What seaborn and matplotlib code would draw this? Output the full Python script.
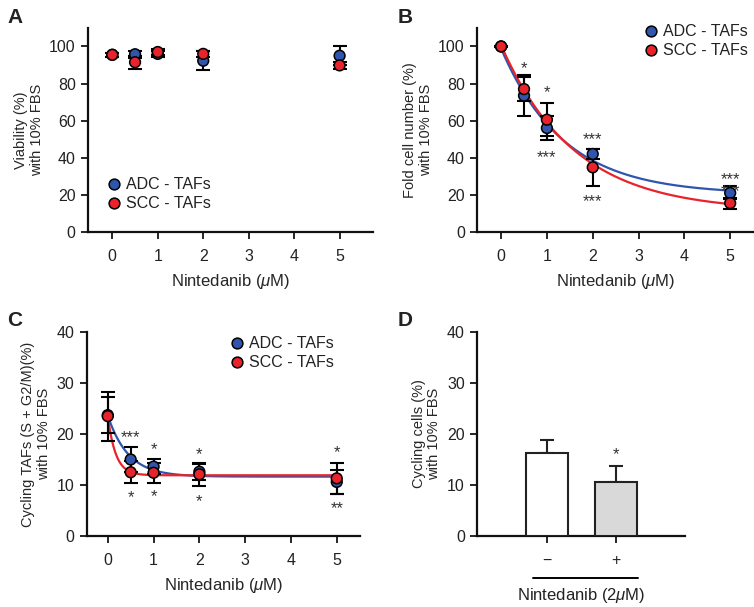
import numpy as np
import pandas as pd
import matplotlib
matplotlib.use('Agg')
import matplotlib.pyplot as plt
import seaborn as sns

# doses (uM)
dose = [0, 0.5, 1, 2, 5]
groups = ['ADC - TAFs', 'SCC - TAFs']

# A: viability
via_adc = [95.5, 95.8, 96.0, 92.3, 95.0]
via_adc_err = [1.0, 2.0, 1.5, 5.0, 5.0]
via_scc = [95.5, 91.5, 97.0, 96.0, 89.8]
via_scc_err = [1.0, 3.5, 1.5, 1.5, 1.8]

# B: fold cell number
fold_adc = [100, 73.5, 56.0, 42.0, 21.0]
fold_adc_err = [0.5, 11.0, 6.5, 2.8, 3.5]
fold_scc = [100, 77.0, 60.5, 34.8, 15.5]
fold_scc_err = [0.5, 6.5, 9.0, 10.0, 3.0]

# C: cycling TAFs
cyc_adc = [23.7, 15.0, 13.6, 12.6, 10.6]
cyc_adc_err = [3.5, 2.5, 1.5, 1.6, 2.4]
cyc_scc = [23.5, 12.5, 12.4, 12.1, 11.3]
cyc_scc_err = [4.8, 2.2, 2.0, 2.2, 3.0]

# D: cycling cells
d_labels = ['\u2212', '+']
d_vals = [16.3, 10.6]
d_err = [2.6, 3.2]

palette = {'ADC - TAFs': '#2f55ad', 'SCC - TAFs': '#e8232b'}

sns.set_style('ticks')
plt.rcParams['font.family'] = ['Liberation Sans', 'DejaVu Sans']
plt.rcParams['mathtext.fontset'] = 'custom'
plt.rcParams['mathtext.rm'] = 'Liberation Sans'
plt.rcParams['mathtext.it'] = 'Liberation Sans:italic'
plt.rcParams['axes.linewidth'] = 1.6
plt.rcParams['xtick.major.width'] = 1.4
plt.rcParams['ytick.major.width'] = 1.4
plt.rcParams['xtick.major.size'] = 5
plt.rcParams['ytick.major.size'] = 5
plt.rcParams['xtick.major.pad'] = 7
plt.rcParams['ytick.major.pad'] = 4
plt.rcParams['xtick.labelsize'] = 11.5
plt.rcParams['ytick.labelsize'] = 11.5
plt.rcParams['axes.labelsize'] = 10.5
plt.rcParams['axes.edgecolor'] = '#111111'
plt.rcParams['text.color'] = '#222222'
plt.rcParams['xtick.labelcolor'] = '#222222'
plt.rcParams['ytick.labelcolor'] = '#222222'

STAR_COLOR = '#333333'
XLABEL = r'Nintedanib ($\mathit{\mu}$M)'


def fit_decay(x, y):
    # y = a*exp(-k x) + c, grid over k, linear least squares for a, c
    x = np.asarray(x, float)
    y = np.asarray(y, float)
    best = None
    for k in np.linspace(0.05, 8, 1600):
        A = np.column_stack([np.exp(-k * x), np.ones_like(x)])
        coef = np.linalg.lstsq(A, y, rcond=None)[0]
        r = np.sum((A @ coef - y) ** 2)
        if best is None or r < best[0]:
            best = (r, k, coef)
    _, k, (a, c) = best
    return lambda t: a * np.exp(-k * t) + c


def long_df(adc, scc):
    return pd.DataFrame({
        'dose': dose * 2,
        'value': list(adc) + list(scc),
        'group': [groups[0]] * len(dose) + [groups[1]] * len(dose),
    })


def dose_panel(ax, adc, adc_err, scc, scc_err, ylim, yticks, ylabel, curves=False):
    if curves:
        xs = np.linspace(0, 5, 200)
        for g, vals in zip(groups, [adc, scc]):
            f = fit_decay(dose, vals)
            sns.lineplot(x=xs, y=f(xs), ax=ax, color=palette[g], lw=1.6, zorder=2)
    for vals, err in [(adc, adc_err), (scc, scc_err)]:
        ax.errorbar(dose, vals, yerr=err, fmt='none', ecolor='black',
                    elinewidth=1.5, capsize=5, capthick=1.5, zorder=3)
    sns.scatterplot(data=long_df(adc, scc), x='dose', y='value', hue='group',
                    palette=palette, s=60, edgecolor='black', linewidth=1.1,
                    ax=ax, zorder=4)
    ax.set_ylim(*ylim)
    ax.set_yticks(yticks)
    ax.set_xticks([0, 1, 2, 3, 4, 5])
    ax.set_xlabel(XLABEL, fontsize=12, labelpad=6)
    ax.set_ylabel(ylabel, linespacing=1.15)
    sns.despine(ax=ax)


def legend(ax, **kw):
    ax.legend(frameon=False, fontsize=11.5, handletextpad=0.05, borderaxespad=0,
              labelspacing=0.25, handlelength=1.4, **kw)


def stars(ax, items):
    for x, y, s in items:
        ax.text(x, y, s, ha='center', va='center', fontsize=12, color=STAR_COLOR)


fig = plt.figure(figsize=(7.54, 6.07), dpi=100)
axA = fig.add_axes([0.117, 0.618, 0.378, 0.336])
axB = fig.add_axes([0.633, 0.618, 0.367, 0.336])
axC = fig.add_axes([0.115, 0.117, 0.362, 0.336])
axD = fig.add_axes([0.633, 0.117, 0.275, 0.336])

# A
dose_panel(axA, via_adc, via_adc_err, via_scc, via_scc_err, (0, 110),
           [0, 20, 40, 60, 80, 100], 'Viability (%)\nwith 10% FBS')
axA.set_xlim(-0.53, 5.74)
legend(axA, loc='lower left', bbox_to_anchor=(0.028, 0.07))

# B
dose_panel(axB, fold_adc, fold_adc_err, fold_scc, fold_scc_err, (0, 110),
           [0, 20, 40, 60, 80, 100], 'Fold cell number (%)\nwith 10% FBS', curves=True)
axB.set_xlim(-0.52, 5.52)
legend(axB, loc='upper right', bbox_to_anchor=(1.0, 1.05))
stars(axB, [(0.5, 88, '*'), (1, 75, '*'), (1, 40, '***'), (2, 50, '***'),
            (2, 16.5, '***'), (5, 28, '***'), (5, 21.5, '***')])

# C
dose_panel(axC, cyc_adc, cyc_adc_err, cyc_scc, cyc_scc_err, (0, 40),
           [0, 10, 20, 30, 40], 'Cycling TAFs (S + G2/M)(%)\nwith 10% FBS', curves=True)
axC.set_xlim(-0.46, 5.5)
legend(axC, loc='upper right', bbox_to_anchor=(0.93, 1.01))
stars(axC, [(0.5, 19.2, '***'), (1, 17.0, '*'), (2, 15.9, '*'), (5, 16.3, '*'),
            (0.5, 7.6, '*'), (1, 7.8, '*'), (2, 6.8, '*'), (5, 5.3, '**')])

# D
dfD = pd.DataFrame({'treat': d_labels, 'value': d_vals})
sns.barplot(data=dfD, x='treat', y='value', hue='treat', palette=['white', '#d9d9d9'],
            edgecolor='#222222', linewidth=1.5, width=0.61, errorbar=None,
            legend=False, ax=axD, zorder=3)
axD.errorbar([0, 1], d_vals, yerr=[[0, 0], d_err], fmt='none', ecolor='#222222',
             elinewidth=1.5, capsize=5, capthick=1.5, zorder=2)
axD.set_xlim(-1.02, 2.0)
axD.set_ylim(0, 40)
axD.set_yticks([0, 10, 20, 30, 40])
axD.set_ylabel('Cycling cells (%)\nwith 10% FBS', linespacing=1.15)
axD.set_xlabel('')
sns.despine(ax=axD)
stars(axD, [(1, 15.9, '*')])
axD.plot([0.27, 0.775], [-0.206, -0.206], transform=axD.transAxes, color='black',
         lw=1.4, clip_on=False)
axD.text(0.5, -0.29, r'Nintedanib (2$\mathit{\mu}$M)', transform=axD.transAxes,
         ha='center', va='center', fontsize=12)

# panel letters
for lbl, (x, y) in zip('ABCD', [(0.01, 0.955), (0.527, 0.955), (0.01, 0.457), (0.527, 0.457)]):
    fig.text(x, y, lbl, fontsize=15, fontweight='bold', ha='left', va='bottom')

fig.savefig('out.png', dpi=100)
